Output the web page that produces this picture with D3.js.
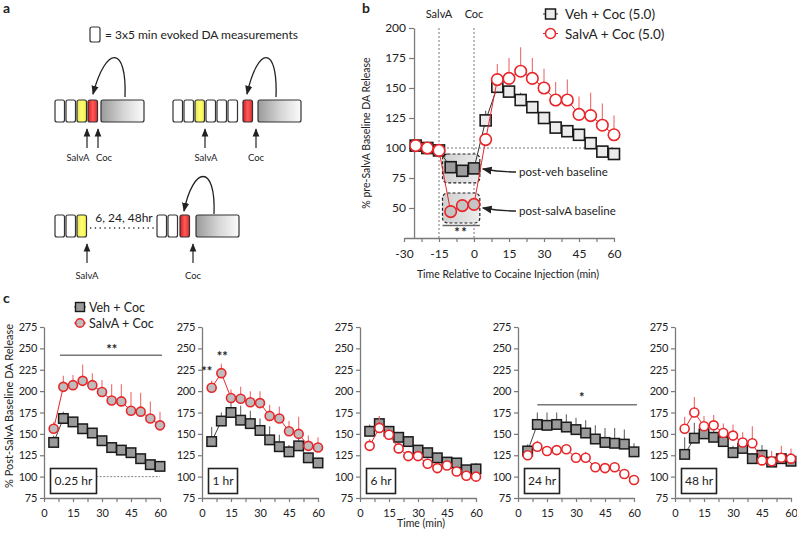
<!DOCTYPE html>
<html><head><meta charset="utf-8">
<script src="https://cdn.jsdelivr.net/npm/d3@7"></script>
<style>
body{margin:0;background:#fff}
svg{display:block}
text{font-family:Lato,'Liberation Sans',sans-serif;fill:#222}
</style>
</head><body>
<svg id="fig" width="797" height="538"></svg>
<script>
// ---------- Panel b data ----------
const bTimes = [-25,-20,-15,-10,-5,0,5,10,15,20,25,30,35,40,45,50,55,60];
const bVeh = [102,100,98,84,81,83,123,151,147,140,134,125,117,114,111,104,97,95];
const bVehErr = [2,1,1,2,2,2,8,4,4,6,5,5,4,4,4,3,3,2];
const bSalvA = [102,100,98,47,52,53,107,157,158,164,158,150,140,140,128,127,119,111];
const bSalvAErr = [2,1,1,2,2,2,5,13,17,20,17,16,15,17,15,19,18,16];
const bXTicks = [-30,-15,0,15,30,45,60];
const bYTicks = [50,75,100,125,150,175,200];
const bSeriesNames = ["Veh + Coc (5.0)","SalvA + Coc (5.0)"];

// ---------- Panel c data ----------
const cTimes = [5,10,15,20,25,30,35,40,45,50,55,60];
const cLabels = ["0.25 hr","1 hr","6 hr","24 hr","48 hr"];
const cXTicks = [0,15,30,45,60];
const cYTicks = [75,100,125,150,175,200,225,250,275];
const cSeriesNames = ["Veh + Coc","SalvA + Coc"];

const veh025 = [140,168,164,156,151,142,134,131,128,121,114,112];
const veh025Err = [8,8,6,6,6,5,5,5,4,4,3,3];
const salv025 = [156,205,207,212,207,199,189,188,177,176,168,160];
const salv025Err = [8,13,12,19,14,14,19,20,22,22,20,16];

const veh1 = [141,165,175,166,162,154,143,135,129,136,122,116];
const veh1Err = [17,10,12,17,15,14,16,14,8,10,6,6];
const salv1 = [204,221,192,191,187,186,171,168,153,150,136,134];
const salv1Err = [8,11,10,14,13,14,13,14,12,20,12,12];

const veh6 = [153,162,153,146,141,131,128,122,117,116,108,109];
const veh6Err = [8,8,5,5,6,5,4,5,6,5,4,7];
const salv6 = [136,157,149,133,124,124,115,110,113,106,101,100];
const salv6Err = [8,14,6,6,6,6,6,5,5,5,4,4];

const veh24 = [130,161,160,161,158,155,151,144,140,139,138,129];
const veh24Err = [8,14,15,14,15,14,15,16,17,18,17,10];
const salv24 = [125,135,130,131,132,122,122,111,110,111,103,96];
const salv24Err = [5,7,4,5,6,5,7,5,5,5,6,3];

const veh48 = [126,145,150,146,141,128,133,121,125,117,121,118];
const veh48Err = [20,18,8,8,6,8,6,6,12,5,5,4];
const salv48 = [156,175,159,160,151,148,140,139,119,118,122,121];
const salv48Err = [14,18,12,12,11,13,12,20,10,12,14,12];

const cVeh = [veh025,veh1,veh6,veh24,veh48];
const cVehErr = [veh025Err,veh1Err,veh6Err,veh24Err,veh48Err];
const cSalv = [salv025,salv1,salv6,salv24,salv48];
const cSalvErr = [salv025Err,salv1Err,salv6Err,salv24Err,salv48Err];

// ---------- drawing ----------
const svg = d3.select("#fig");
const RED = "#e8262a", REDL = "#ee6a6a", DARK = "#333", AX = "#7a7a7a";
const defs = svg.append("defs");
function grad(id, stops){
  const g = defs.append("linearGradient").attr("id", id).attr("x1","0").attr("x2","1").attr("y1","0").attr("y2","0");
  stops.forEach(([o,c])=>g.append("stop").attr("offset",o).attr("stop-color",c));
}
grad("gBig",[[0,"#9a9a9a"],[0.55,"#d8d8d8"],[1,"#fbfbfb"]]);
grad("gYel",[[0,"#e6e35a"],[0.5,"#ffff70"],[1,"#f3ef4a"]]);
grad("gRed",[[0,"#d81e1e"],[0.5,"#ff5a5a"],[1,"#e02a2a"]]);
grad("gBox",[[0,"#cfcfcf"],[1,"#ececec"]]);
defs.append("marker").attr("id","ah").attr("viewBox","0 0 10 10").attr("refX",9).attr("refY",5)
  .attr("markerWidth",7).attr("markerHeight",7).attr("orient","auto-start-reverse")
  .append("path").attr("d","M0,1 L10,5 L0,9 Z").attr("fill","#222");

function styleAxis(g, fs){
  g.selectAll(".domain").attr("stroke",AX).attr("stroke-width",1.3);
  g.selectAll(".tick line").attr("stroke",AX).attr("stroke-width",1.2);
  g.selectAll(".tick text").attr("font-size",fs).attr("fill","#333").style("font-family","Lato,'Liberation Sans',sans-serif");
}

// ===== Panel a (schematic) =====
const A = svg.append("g");
A.append("text").attr("x",3).attr("y",13).attr("font-size",14).attr("font-weight","bold").text("a");
A.append("rect").attr("x",90).attr("y",27).attr("width",10).attr("height",15).attr("rx",2).attr("fill","#fff").attr("stroke",DARK).attr("stroke-width",1.2);
A.append("text").attr("x",105).attr("y",39).attr("font-size",12).text("= 3x5 min evoked DA measurements");

function box(x,y,w,h,fill){
  A.append("rect").attr("x",x).attr("y",y).attr("width",w).attr("height",h).attr("rx",2)
   .attr("fill",fill).attr("stroke",DARK).attr("stroke-width",1.2);
}
function upArrow(x,y1,y2){
  A.append("line").attr("x1",x).attr("x2",x).attr("y1",y1).attr("y2",y2+1)
   .attr("stroke","#222").attr("stroke-width",1.2).attr("marker-end","url(#ah)");
}
function lab(x,y,t){ A.append("text").attr("x",x).attr("y",y).attr("font-size",9.5).attr("text-anchor","middle").text(t); }
function curve(d){ A.append("path").attr("d",d).attr("fill","none").attr("stroke","#222").attr("stroke-width",1.3).attr("marker-end","url(#ah)"); }

// row 1 left
[[55,"#fff"],[66,"#fff"],[77,"url(#gYel)"],[88,"url(#gRed)"]].forEach(([x,f])=>box(x,100,9.5,22,f));
box(101,100,43,22,"url(#gBig)");
upArrow(87,148,128); upArrow(98,148,128);
lab(78,161,"SalvA"); lab(104,161,"Coc");
curve("M125,97 C127,45 106,45 93,94");
// row 1 right
[[173,"#fff"],[184,"#fff"],[195,"url(#gYel)"],[206,"#fff"],[217,"#fff"],[228,"#fff"],[243,"url(#gRed)"]].forEach(([x,f])=>box(x,100,9.5,22,f));
box(258,100,43,22,"url(#gBig)");
upArrow(205,148,128); upArrow(256,148,128);
lab(206,161,"SalvA"); lab(256,161,"Coc");
curve("M276,97 C278,45 258,45 247,94");
// row 2
[[55,"#fff"],[66,"#fff"],[77,"url(#gYel)"],[157,"#fff"],[168,"#fff"],[180,"url(#gRed)"]].forEach(([x,f])=>box(x,215,9.5,22,f));
box(196,215,43,22,"url(#gBig)");
A.append("line").attr("x1",90).attr("x2",155).attr("y1",228).attr("y2",228).attr("stroke","#333").attr("stroke-width",1.3).attr("stroke-dasharray","1.3,3.5");
A.append("text").attr("x",124).attr("y",222).attr("font-size",12).attr("text-anchor","middle").text("6, 24, 48hr");
upArrow(87,263,243); upArrow(193,263,243);
lab(87,279,"SalvA"); lab(193,279,"Coc");
curve("M214,214 C216,163 193,166 184,211");

// ===== Panel b =====
const B = svg.append("g");
const xB = d3.scaleLinear().domain([-30,60]).range([404,614]);
const yB = d3.scaleLinear().domain([25,200]).range([238,28]);
const bYAxisAt = -25.7;
B.append("text").attr("x",362).attr("y",13).attr("font-size",14).attr("font-weight","bold").text("b");

// dashed reference lines
B.append("line").attr("x1",xB(-15)).attr("x2",xB(60)).attr("y1",yB(100)).attr("y2",yB(100)).attr("stroke","#555").attr("stroke-width",0.8).attr("stroke-dasharray","2,2");
[-15,0].forEach(t=>B.append("line").attr("x1",xB(t)).attr("x2",xB(t)).attr("y1",yB(200)).attr("y2",yB(25)).attr("stroke","#555").attr("stroke-width",0.8).attr("stroke-dasharray","2,2"));
B.append("text").attr("x",xB(-15)).attr("y",18).attr("font-size",11).attr("text-anchor","middle").text("SalvA");
B.append("text").attr("x",xB(0)).attr("y",18).attr("font-size",11).attr("text-anchor","middle").text("Coc");

// baseline boxes
[[95,71],[62.5,37.5]].forEach(([a,b])=>{
  B.append("rect").attr("x",xB(-13.5)).attr("y",yB(a)).attr("width",xB(2.5)-xB(-13.5)).attr("height",yB(b)-yB(a)).attr("rx",5)
   .attr("fill","url(#gBox)").attr("stroke","#222").attr("stroke-width",1.2).attr("stroke-dasharray","3,2");
});
B.append("line").attr("x1",xB(-13.5)).attr("x2",xB(2.5)).attr("y1",yB(35.5)).attr("y2",yB(35.5)).attr("stroke","#666").attr("stroke-width",1.5);
B.append("text").attr("x",xB(-5.5)).attr("y",yB(25.5)).attr("font-size",13).attr("font-weight","bold").attr("text-anchor","middle").attr("letter-spacing",1.5).text("**");

// axes
const bxAxis = B.append("g").attr("transform",`translate(0,${yB(25)})`)
  .call(d3.axisBottom(xB).tickValues(d3.range(-30,60.1,7.5)).tickSize(4).tickSizeOuter(0)
  .tickFormat(d=>bXTicks.includes(d)?d:""));
styleAxis(bxAxis,12);
bxAxis.selectAll(".tick text").attr("dy","1.05em");
const byAxis = B.append("g").attr("transform",`translate(${xB(bYAxisAt)},0)`)
  .call(d3.axisLeft(yB).tickValues(bYTicks).tickSize(5).tickSizeOuter(0));
styleAxis(byAxis,12);

B.append("text").attr("transform",`translate(370,133) rotate(-90)`).attr("font-size",10.5).attr("text-anchor","middle").text("% pre-SalvA Baseline DA Release");
B.append("text").attr("x",508).attr("y",278).attr("font-size",10.5).attr("text-anchor","middle").text("Time Relative to Cocaine Injection (min)");

function drawSeries(g,x,y,times,vals,errs,o){
  // error bars
  g.selectAll(null).data(times).enter().append("line")
   .attr("x1",(d)=>x(d)).attr("x2",(d)=>x(d))
   .attr("y1",(d,i)=>y(vals[i])).attr("y2",(d,i)=>y(vals[i]+errs[i]))
   .attr("stroke",o.errColor).attr("stroke-width",1.1);
  // line
  g.append("path").datum(times).attr("fill","none").attr("stroke",o.lineColor).attr("stroke-width",1)
   .attr("d",d3.line().x(d=>x(d)).y((d,i)=>y(vals[i])));
  if(o.shape==="square"){
    g.selectAll(null).data(times).enter().append("rect")
     .attr("x",d=>x(d)-o.size/2).attr("y",(d,i)=>y(vals[i])-o.size/2).attr("width",o.size).attr("height",o.size)
     .attr("fill",(d)=>o.fill(d)).attr("stroke","#1a1a1a").attr("stroke-width",o.sw);
  } else {
    g.selectAll(null).data(times).enter().append("circle")
     .attr("cx",d=>x(d)).attr("cy",(d,i)=>y(vals[i])).attr("r",o.size/2)
     .attr("fill",(d)=>o.fill(d)).attr("stroke",RED).attr("stroke-width",o.sw);
  }
}
const isBase = t=>t>=-10 && t<=0;
drawSeries(B,xB,yB,bTimes,bVeh,bVehErr,{shape:"square",size:11,sw:1.6,errColor:"#555",lineColor:"#333",fill:t=>isBase(t)?"#9c9c9c":"#ececec"});
drawSeries(B,xB,yB,bTimes,bSalvA,bSalvAErr,{shape:"circle",size:11.5,sw:1.6,errColor:REDL,lineColor:RED,fill:t=>isBase(t)?"#c4c4c4":"#fff"});

// annotation arrows
function annArrow(d){ B.append("path").attr("d",d).attr("fill","none").attr("stroke","#222").attr("stroke-width",1.4).attr("marker-end","url(#ah)"); }
annArrow(`M516,172 Q500,172 ${xB(2.5)+3},169`);
annArrow(`M516,211 Q500,211 ${xB(2.5)+3},208`);
B.append("text").attr("x",519).attr("y",176).attr("font-size",11.5).text("post-veh baseline");
B.append("text").attr("x",519).attr("y",215).attr("font-size",11.5).text("post-salvA baseline");

// legend b
const bLeg = B.append("g");
bLeg.append("line").attr("x1",543).attr("x2",558).attr("y1",14).attr("y2",14).attr("stroke","#333");
bLeg.append("rect").attr("x",545.5).attr("y",9).attr("width",10).attr("height",10).attr("fill","#ececec").attr("stroke","#1a1a1a").attr("stroke-width",1.5);
bLeg.append("line").attr("x1",543).attr("x2",558).attr("y1",33.5).attr("y2",33.5).attr("stroke",RED);
bLeg.append("circle").attr("cx",550.5).attr("cy",33.5).attr("r",5).attr("fill","#fff").attr("stroke",RED).attr("stroke-width",1.5);
bLeg.append("text").attr("x",565).attr("y",19).attr("font-size",13.5).text(bSeriesNames[0]);
bLeg.append("text").attr("x",565).attr("y",38.5).attr("font-size",13.5).text(bSeriesNames[1]);

// ===== Panel c =====
const C = svg.append("g");
C.append("text").attr("x",3).attr("y",303).attr("font-size",14).attr("font-weight","bold").text("c");
const yC = d3.scaleLinear().domain([75,275]).range([498,327]);
const cX0 = [44,202,360,518,675];
const circleFill = ["#bdbdbd","#bdbdbd","#fff","#fff","#fff"];
const labelW = [46,29,29,35,35];

cX0.forEach((x0,i)=>{
  const g = C.append("g");
  const xC = d3.scaleLinear().domain([0,60]).range([x0,x0+116]);
  const xa = g.append("g").attr("transform",`translate(0,${yC(75)})`)
    .call(d3.axisBottom(xC).tickValues(d3.range(0,60.1,7.5)).tickSize(4).tickSizeOuter(0)
    .tickFormat(d=>cXTicks.includes(d)?d:""));
  styleAxis(xa,11);
  xa.selectAll(".tick text").attr("dy","1.05em");
  const ya = g.append("g").attr("transform",`translate(${x0},0)`)
    .call(d3.axisLeft(yC).tickValues(cYTicks).tickSize(4).tickSizeOuter(0));
  styleAxis(ya,11);
  ya.selectAll(".tick text").attr("letter-spacing",-0.3);

  if(i===0){
    g.append("line").attr("x1",xC(27)).attr("x2",xC(60)).attr("y1",yC(100)).attr("y2",yC(100))
     .attr("stroke","#777").attr("stroke-width",0.9).attr("stroke-dasharray","2,1.5");
  }
  drawSeries(g,xC,yC,cTimes,cVeh[i],cVehErr[i],{shape:"square",size:9.5,sw:1.5,errColor:"#666",lineColor:"#444",fill:()=>"#9a9a9a"});
  drawSeries(g,xC,yC,cTimes,cSalv[i],cSalvErr[i],{shape:"circle",size:9,sw:1.6,errColor:REDL,lineColor:RED,fill:()=>circleFill[i]});

  // period label box
  g.append("rect").attr("x",x0+6.5).attr("y",468.5).attr("width",labelW[i]).attr("height",25)
   .attr("fill","#fff").attr("stroke","#222").attr("stroke-width",1.6);
  g.append("text").attr("x",x0+6.5+labelW[i]/2).attr("y",485).attr("font-size",12).attr("text-anchor","middle").text(cLabels[i]);

  if(i===0){
    g.append("line").attr("x1",xC(8.3)).attr("x2",xC(61)).attr("y1",yC(242)).attr("y2",yC(242)).attr("stroke","#777").attr("stroke-width",1.6);
    g.append("text").attr("x",xC(35)).attr("y",yC(243)).attr("font-size",13).attr("font-weight","bold").attr("text-anchor","middle").text("**");
  }
  if(i===1){
    g.append("text").attr("x",xC(2.5)).attr("y",yC(218)).attr("font-size",13).attr("font-weight","bold").attr("text-anchor","middle").text("**");
    g.append("text").attr("x",xC(10.5)).attr("y",yC(235)).attr("font-size",13).attr("font-weight","bold").attr("text-anchor","middle").text("**");
  }
  if(i===3){
    g.append("line").attr("x1",xC(10)).attr("x2",xC(61.5)).attr("y1",yC(184)).attr("y2",yC(184)).attr("stroke","#777").attr("stroke-width",1.6);
    g.append("text").attr("x",xC(33)).attr("y",yC(187)).attr("font-size",13).attr("font-weight","bold").attr("text-anchor","middle").text("*");
  }
});

C.append("text").attr("transform","translate(13,406) rotate(-90)").attr("font-size",11).attr("text-anchor","middle").text("% Post-SalvA Baseline DA Release");
C.append("text").attr("x",421).attr("y",527).attr("font-size",10.5).attr("text-anchor","middle").text("Time (min)");

// legend c
const cLeg = C.append("g");
cLeg.append("line").attr("x1",74).attr("x2",86).attr("y1",307).attr("y2",307).attr("stroke","#444");
cLeg.append("rect").attr("x",75.5).attr("y",302.5).attr("width",9).attr("height",9).attr("fill","#9a9a9a").attr("stroke","#1a1a1a").attr("stroke-width",1.4);
cLeg.append("line").attr("x1",74).attr("x2",86).attr("y1",323).attr("y2",323).attr("stroke",RED);
cLeg.append("circle").attr("cx",80).attr("cy",323).attr("r",4.3).attr("fill","#bdbdbd").attr("stroke",RED).attr("stroke-width",1.5);
cLeg.append("text").attr("x",89).attr("y",312).attr("font-size",12.5).text(cSeriesNames[0]);
cLeg.append("text").attr("x",89).attr("y",328).attr("font-size",12.5).text(cSeriesNames[1]);
</script>
</body></html>
